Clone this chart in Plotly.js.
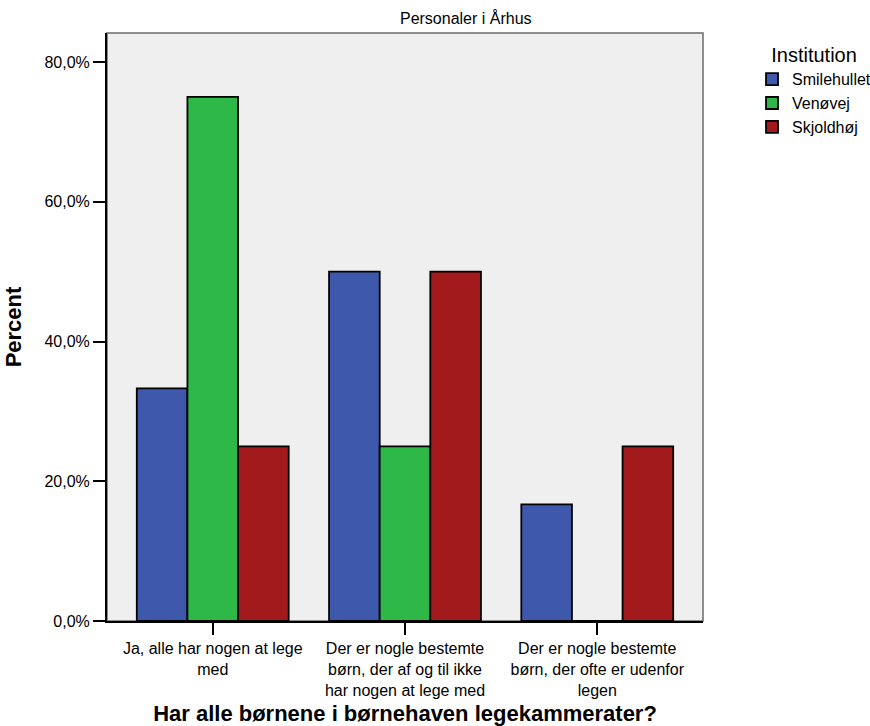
<!DOCTYPE html>
<html>
<head>
<meta charset="utf-8">
<script src="https://cdn.plot.ly/plotly-3.0.1.min.js"></script>
<style>html,body{margin:0;padding:0;background:#fff;}#chart{width:870px;height:726px;}</style>
</head>
<body>
<div id="chart"></div>
<script>
var categories = [
  "Ja, alle har nogen at lege<br>med",
  "Der er nogle bestemte<br>børn, der af og til ikke<br>har nogen at lege med",
  "Der er nogle bestemte<br>børn, der ofte er udenfor<br>legen"
];
var seriesNames = ["Smilehullet", "Venøvej", "Skjoldhøj"];
var smilehullet = [33.3, 50.0, 16.7];
var venoevej = [75.0, 25.0, 0.0];
var skjoldhoej = [25.0, 50.0, 25.0];
var colors = ["#3e58ac", "#2eb848", "#a31a1c"];
var yTickVals = [0, 20, 40, 60, 80];
var yTickText = ["0,0%", "20,0%", "40,0%", "60,0%", "80,0%"];

var values = [smilehullet, venoevej, skjoldhoej];
var FONT = "'Liberation Sans', Arial, Helvetica, sans-serif";

var traces = seriesNames.map(function (name, i) {
  return {
    type: "bar",
    name: name,
    x: categories,
    y: values[i],
    marker: { color: colors[i], line: { color: "#000", width: 1.8 } },
    hoverinfo: "skip"
  };
});

var layout = {
  width: 870,
  height: 726,
  margin: { l: 107, r: 167, t: 33, b: 105, pad: 0 },
  paper_bgcolor: "#ffffff",
  plot_bgcolor: "#efefef",
  font: { family: FONT, size: 16, color: "#000" },
  barmode: "group",
  bargap: 0.21,
  bargroupgap: 0,
  separators: ",.",
  title: {
    text: "Personaler i Århus",
    font: { family: FONT, size: 16, color: "#000" },
    xref: "paper", x: 0.602, xanchor: "center",
    yref: "container", y: 0.974, yanchor: "middle"
  },
  xaxis: {
    type: "category",
    range: [-0.55, 2.55],
    showgrid: false,
    zeroline: false,
    showline: true, linecolor: "#000", linewidth: 2,
    ticks: "outside", ticklen: 12, tickwidth: 2, tickcolor: "#000",
    tickfont: { family: FONT, size: 16, color: "#000" },
    automargin: false,
    title: {
      text: "<b>Har alle børnene i børnehaven legekammerater?</b>",
      font: { family: FONT, size: 22, color: "#000" },
      standoff: 10
    }
  },
  yaxis: {
    range: [0, 84.15],
    tickmode: "array",
    tickvals: yTickVals,
    ticktext: yTickText,
    showgrid: false,
    zeroline: false,
    showline: true, linecolor: "#000", linewidth: 2,
    ticks: "outside", ticklen: 12, tickwidth: 2, tickcolor: "#000",
    tickfont: { family: FONT, size: 16, color: "#000" },
    automargin: false,
    title: {
      text: "<b>Percent</b>",
      font: { family: FONT, size: 22, color: "#000" },
      standoff: 17
    }
  },
  shapes: [{
    type: "rect", xref: "paper", yref: "paper",
    x0: 0, x1: 1, y0: 0, y1: 1,
    line: { color: "#6b6b6b", width: 1.5 },
    layer: "below"
  }],
  legend: {
    xref: "container", yref: "container",
    x: 0.8644, xanchor: "left",
    y: 0.95, yanchor: "top",
    bgcolor: "rgba(0,0,0,0)",
    font: { family: FONT, size: 16, color: "#000" },
    title: { text: "Institution", side: "top center", font: { family: FONT, size: 20, color: "#000" } },
    traceorder: "normal",
    itemclick: false
  },
  showlegend: true
};

Plotly.newPlot("chart", traces, layout, { staticPlot: true, displayModeBar: false });
</script>
</body>
</html>
